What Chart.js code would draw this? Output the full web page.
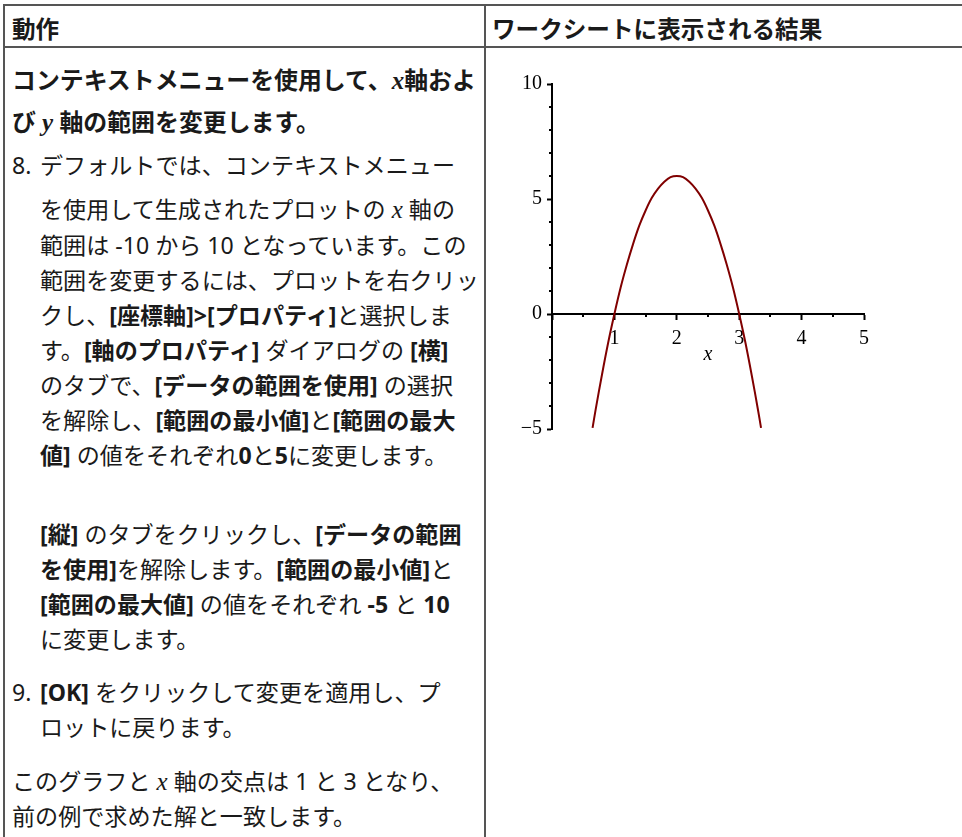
<!DOCTYPE html>
<html lang="ja">
<head>
<meta charset="utf-8">
<script src="https://cdn.jsdelivr.net/npm/chart.js@4.4.1/dist/chart.umd.min.js"></script>
<style>
  html, body { margin: 0; padding: 0; background: #fff; }
  body { width: 962px; height: 837px; overflow: hidden; position: relative;
         font-family: "Noto Sans", "Noto Sans CJK JP", sans-serif; color: #1a1a1a; }
  .rule { position: absolute; background: #555; }
  .ln { position: absolute; white-space: nowrap; font-size: 23.1px; height: 34px; line-height: 34px; }
  .hd { font-weight: 700; font-size: 23.6px; }
  .hb { font-weight: 700; font-size: 23.9px; }
  b { font-weight: 700; }
  i.m { font-family: "Liberation Serif", serif; font-style: italic; font-size: 25px; }
  #chartBox { position: absolute; left: 500px; top: 60px; width: 400px; height: 400px; }
</style>
</head>
<body>
<div class="rule" style="left:3px;top:4px;width:959px;height:2px"></div>
<div class="rule" style="left:3px;top:4px;width:2px;height:833px"></div>
<div class="rule" style="left:3px;top:46px;width:959px;height:2px"></div>
<div class="rule" style="left:484px;top:4px;width:2px;height:833px"></div>

<div class="ln hd" style="left:12px;top:12px">動作</div>
<div class="ln hd" style="left:492px;top:12px">ワークシートに表示される結果</div>

<div class="ln hb" style="left:12px;top:63px">コンテキストメニューを使用して、<i class="m">x</i>軸およ</div>
<div class="ln hb" style="left:12px;top:105px">び <i class="m">y</i> 軸の範囲を変更します。</div>

<div class="ln" style="left:12px;top:148px">8.</div>
<div class="ln" style="left:40px;top:148px">デフォルトでは、コンテキストメニュー</div>
<div class="ln" style="left:40px;top:192px">を使用して生成されたプロットの <i class="m">x</i> 軸の</div>
<div class="ln" style="left:40px;top:228px">範囲は -10 から 10 となっています。この</div>
<div class="ln" style="left:40px;top:263px">範囲を変更するには、プロットを右クリッ</div>
<div class="ln" style="left:40px;top:298px">クし、<b>[座標軸]&gt;[プロパティ]</b>と選択しま</div>
<div class="ln" style="left:40px;top:333px">す。<b>[軸のプロパティ]</b> ダイアログの <b>[横]</b></div>
<div class="ln" style="left:40px;top:368px">のタブで、<b>[データの範囲を使用]</b> の選択</div>
<div class="ln" style="left:40px;top:403px">を解除し、<b>[範囲の最小値]</b>と<b>[範囲の最大</b></div>
<div class="ln" style="left:40px;top:438px"><b>値]</b> の値をそれぞれ<b>0</b>と<b>5</b>に変更します。</div>

<div class="ln" style="left:40px;top:517px"><b>[縦]</b> のタブをクリックし、<b>[データの範囲</b></div>
<div class="ln" style="left:40px;top:552px"><b>を使用]</b>を解除します。<b>[範囲の最小値]</b>と</div>
<div class="ln" style="left:40px;top:587px"><b>[範囲の最大値]</b> の値をそれぞれ <b>-5</b> と <b>10</b></div>
<div class="ln" style="left:40px;top:622px">に変更します。</div>

<div class="ln" style="left:12px;top:675px">9.</div>
<div class="ln" style="left:40px;top:675px"><b>[OK]</b> をクリックして変更を適用し、プ</div>
<div class="ln" style="left:40px;top:710px">ロットに戻ります。</div>

<div class="ln" style="left:12px;top:764px">このグラフと <i class="m">x</i> 軸の交点は 1 と 3 となり、</div>
<div class="ln" style="left:12px;top:799px">前の例で求めた解と一致します。</div>

<div id="chartBox"><canvas id="c" width="400" height="400"></canvas></div>

<script>
// ---- data ----
const curveX = [0.65, 0.7, 0.8, 0.9, 1.0, 1.1, 1.2, 1.3, 1.4, 1.5, 1.6, 1.7, 1.8, 1.9, 2.0,
                2.1, 2.2, 2.3, 2.4, 2.5, 2.6, 2.7, 2.8, 2.9, 3.0, 3.1, 3.2, 3.3, 3.35];
const curveY = [-4.95, -4.15, -2.65, -1.25, 0.0, 1.15, 2.15, 3.05, 3.85, 4.5, 5.05, 5.45, 5.75, 5.95, 6.0,
                5.95, 5.75, 5.45, 5.05, 4.5, 3.85, 3.05, 2.15, 1.15, 0.0, -1.25, -2.65, -4.15, -4.95];
const xTickValues = [0, 1, 2, 3, 4, 5];
const xTickLabels = ['', '1', '2', '3', '4', '5'];
const yTickValues = [-5, 0, 5, 10];
const yTickLabels = ['\u22125', '0', '5', '10'];
const xMinorTicks = [0.5, 1.5, 2.5, 3.5, 4.5];
const yMinorTicks = [-4, -3, -2, -1, 1, 2, 3, 4, 6, 7, 8, 9];
const xAxisTitle = 'x';

const points = curveX.map((x, i) => ({ x: x, y: curveY[i] }));

const tickFont = { family: '"Liberation Serif", "DejaVu Serif", serif', size: 20 };

const minorTicksPlugin = {
  id: 'minorTicks',
  afterDraw(chart) {
    const { ctx, scales } = chart;
    const xs = scales.x, ys = scales.y;
    const x0 = xs.getPixelForValue(0);
    const y0 = ys.getPixelForValue(0);
    ctx.save();
    ctx.strokeStyle = '#000';
    ctx.lineWidth = 2;
    ctx.beginPath();
    xMinorTicks.forEach(v => {
      const px = Math.round(xs.getPixelForValue(v));
      ctx.moveTo(px, y0);
      ctx.lineTo(px, y0 + 3);
    });
    yMinorTicks.forEach(v => {
      const py = Math.round(ys.getPixelForValue(v));
      ctx.moveTo(x0, py);
      ctx.lineTo(x0 - 3, py);
    });
    ctx.stroke();
    ctx.fillStyle = '#000';
    ctx.font = 'italic 20px "Liberation Serif", serif';
    ctx.textAlign = 'center';
    ctx.textBaseline = 'middle';
    ctx.fillText(xAxisTitle, xs.getPixelForValue(2.5), y0 + 41);
    ctx.restore();
  }
};

new Chart(document.getElementById('c'), {
  type: 'scatter',
  data: {
    datasets: [{
      data: points,
      showLine: true,
      borderColor: '#800000',
      borderWidth: 2,
      pointRadius: 0,
      tension: 0.35,
      fill: false
    }]
  },
  options: {
    responsive: false,
    animation: false,
    devicePixelRatio: 1,
    layout: { padding: { left: 2, top: 24, right: 36, bottom: 31 } },
    plugins: { legend: { display: false }, tooltip: { enabled: false } },
    scales: {
      x: {
        type: 'linear',
        min: 0, max: 5,
        position: { y: 0 },
        afterBuildTicks: (s) => { s.ticks = xTickValues.map(v => ({ value: v })); },
        ticks: {
          autoSkip: false, maxRotation: 0, padding: 8, color: '#000', font: tickFont,
          callback: (v) => { const i = xTickValues.indexOf(v); return i >= 0 ? xTickLabels[i] : ''; }
        },
        grid: { drawOnChartArea: false, drawTicks: true, tickLength: 5, tickWidth: 2, tickColor: '#000' },
        border: { display: true, color: '#000', width: 2 }
      },
      y: {
        type: 'linear',
        min: -5, max: 10,
        position: 'left',
        afterFit: (s) => { s.width = 50; },
        afterBuildTicks: (s) => { s.ticks = yTickValues.map(v => ({ value: v })); },
        ticks: {
          autoSkip: false, padding: 5, color: '#000', font: tickFont,
          callback: (v) => { const i = yTickValues.indexOf(v); return i >= 0 ? yTickLabels[i] : ''; }
        },
        grid: { drawOnChartArea: false, drawTicks: true, tickLength: 5, tickWidth: 2, tickColor: '#000' },
        border: { display: true, color: '#000', width: 2 }
      }
    }
  },
  plugins: [minorTicksPlugin]
});
</script>
</body>
</html>
